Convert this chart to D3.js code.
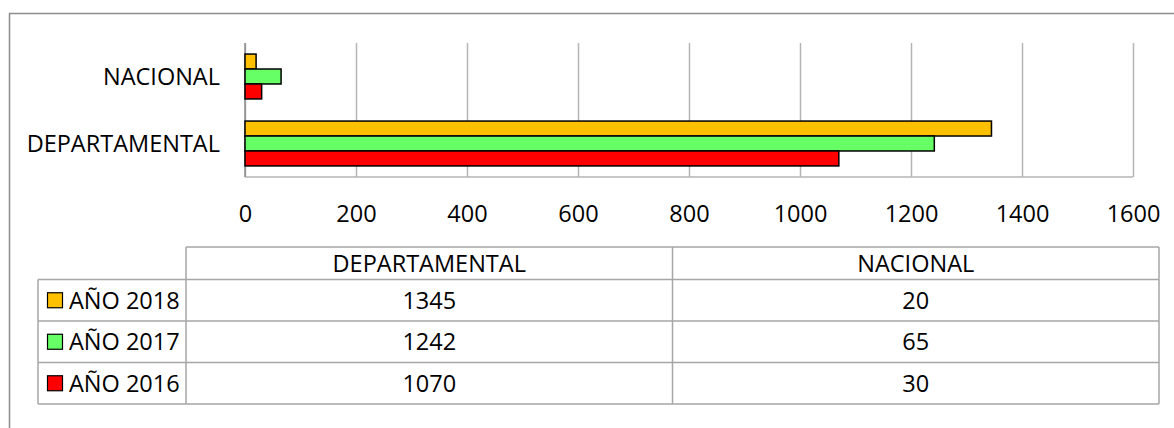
<!DOCTYPE html>
<html>
<head>
<meta charset="utf-8">
<script src="https://cdn.jsdelivr.net/npm/d3@7"></script>
<style>
  body { margin: 0; background: #fff; }
  svg text { font-family: "Open Sans", sans-serif; font-size: 23.5px; fill: #000; }
</style>
</head>
<body>
<div id="stage_id"></div>
<script>
// categorias (de arriba abajo) y series
var categorias = ["NACIONAL", "DEPARTAMENTAL"];
var series = ["AÑO 2018", "AÑO 2017", "AÑO 2016"];
var colores = ["#FFC000", "#66FF66", "#FF0000"];

// valores por serie: [DEPARTAMENTAL, NACIONAL]
var columnasTabla = ["DEPARTAMENTAL", "NACIONAL"];
var valores2018 = [1345, 20];
var valores2017 = [1242, 65];
var valores2016 = [1070, 30];
var valores = [valores2018, valores2017, valores2016];

var ticksX = [0, 200, 400, 600, 800, 1000, 1200, 1400, 1600];

var width = 1174, height = 428;

var svg = d3.select("#stage_id")
  .append("svg")
  .attr("width", width)
  .attr("height", height);

// marco exterior
svg.append("path")
  .attr("d", "M9.5,428 L9.5,13.5 L1174,13.5")
  .attr("fill", "none")
  .attr("stroke", "#8c8c8c")
  .attr("stroke-width", 1.5);

//************************************************************
// escalas
//************************************************************
var plot = {left: 245, right: 1133, top: 43, bottom: 177};

var xScale = d3.scaleLinear()
  .domain([0, 1600])
  .range([plot.left, plot.right]);

var yScale = d3.scaleBand()
  .domain(categorias)
  .range([plot.top, plot.bottom])
  .paddingInner(0.33)
  .paddingOuter(0.165);

var ySerie = d3.scaleBand()
  .domain(series)
  .range([0, yScale.bandwidth()]);

// lineas de la cuadricula
var xAxis = d3.axisBottom(xScale)
  .tickValues(ticksX)
  .tickSize(-(plot.bottom - plot.top))
  .tickPadding(14)
  .tickFormat(d3.format("d"));

var gX = svg.append("g")
  .attr("transform", "translate(0," + plot.bottom + ")")
  .call(xAxis);

gX.select(".domain").remove();
gX.selectAll(".tick line")
  .attr("stroke", "#b4b4b4")
  .attr("stroke-width", 1.5);
gX.selectAll(".tick text")
  .attr("font-size", null)
  .attr("font-family", null)
  .attr("dy", null)
  .attr("y", 44.5);

// eje inferior
svg.append("line")
  .attr("x1", plot.left).attr("x2", plot.right)
  .attr("y1", plot.bottom).attr("y2", plot.bottom)
  .attr("stroke", "#b4b4b4")
  .attr("stroke-width", 1.5);

// eje vertical
svg.append("line")
  .attr("x1", plot.left).attr("x2", plot.left)
  .attr("y1", plot.top).attr("y2", plot.bottom)
  .attr("stroke", "#8c8c8c")
  .attr("stroke-width", 1.5);

// etiquetas de categoria
svg.selectAll(".cat")
  .data(categorias)
  .enter()
  .append("text")
  .attr("class", "cat")
  .attr("x", 220)
  .attr("y", function(d){ return yScale(d) + yScale.bandwidth() / 2 + 8.5; })
  .attr("text-anchor", "end")
  .text(function(d){ return d; });

//************************************************************
// barras
//************************************************************
var barras = [];
series.forEach(function(s, i){
  categorias.forEach(function(c){
    var idx = columnasTabla.indexOf(c);
    barras.push({serie: s, cat: c, valor: valores[i][idx], color: colores[i]});
  });
});

svg.selectAll(".bar")
  .data(barras)
  .enter()
  .append("rect")
  .attr("class", "bar")
  .attr("x", xScale(0))
  .attr("y", function(d){ return yScale(d.cat) + ySerie(d.serie); })
  .attr("width", function(d){ return xScale(d.valor) - xScale(0); })
  .attr("height", ySerie.bandwidth())
  .attr("fill", function(d){ return d.color; })
  .attr("stroke", "#000")
  .attr("stroke-width", 1.5);

//************************************************************
// tabla de datos
//************************************************************
var tabla = {left: 38, colIni: 186, right: 1159, headTop: 247, rowTop: 279.5, rowH: 41.5};
var colW = (tabla.right - tabla.colIni) / columnasTabla.length;
var gris = "#a6a6a6";

var gT = svg.append("g").attr("fill", "none").attr("stroke", gris).attr("stroke-width", 1.5);
var tablaBottom = tabla.rowTop + series.length * tabla.rowH;

// fila de cabecera
gT.append("line")
  .attr("x1", tabla.colIni).attr("x2", tabla.right)
  .attr("y1", tabla.headTop).attr("y2", tabla.headTop);

// lineas horizontales de filas
d3.range(series.length + 1).forEach(function(i){
  gT.append("line")
    .attr("x1", tabla.left).attr("x2", tabla.right)
    .attr("y1", tabla.rowTop + i * tabla.rowH).attr("y2", tabla.rowTop + i * tabla.rowH);
});

// verticales
gT.append("line")
  .attr("x1", tabla.left).attr("x2", tabla.left)
  .attr("y1", tabla.rowTop).attr("y2", tablaBottom);
d3.range(columnasTabla.length + 1).forEach(function(i){
  var x = tabla.colIni + i * colW;
  gT.append("line")
    .attr("x1", x).attr("x2", x)
    .attr("y1", tabla.headTop).attr("y2", tablaBottom);
});

// textos de cabecera
svg.selectAll(".head")
  .data(columnasTabla)
  .enter()
  .append("text")
  .attr("class", "head")
  .attr("x", function(d, i){ return tabla.colIni + colW * (i + 0.5); })
  .attr("y", (tabla.headTop + tabla.rowTop) / 2 + 8.5)
  .attr("text-anchor", "middle")
  .text(function(d){ return d; });

// filas
series.forEach(function(s, i){
  var yc = tabla.rowTop + tabla.rowH * (i + 0.5);

  svg.append("rect")
    .attr("x", 47.5).attr("y", yc - 7.5)
    .attr("width", 15).attr("height", 15)
    .attr("fill", colores[i])
    .attr("stroke", "#000")
    .attr("stroke-width", 1.2);

  svg.append("text")
    .attr("x", 69)
    .attr("y", yc + 8.5)
    .text(s);

  valores[i].forEach(function(v, j){
    svg.append("text")
      .attr("x", tabla.colIni + colW * (j + 0.5))
      .attr("y", yc + 8.5)
      .attr("text-anchor", "middle")
      .text(v);
  });
});
</script>
</body>
</html>
